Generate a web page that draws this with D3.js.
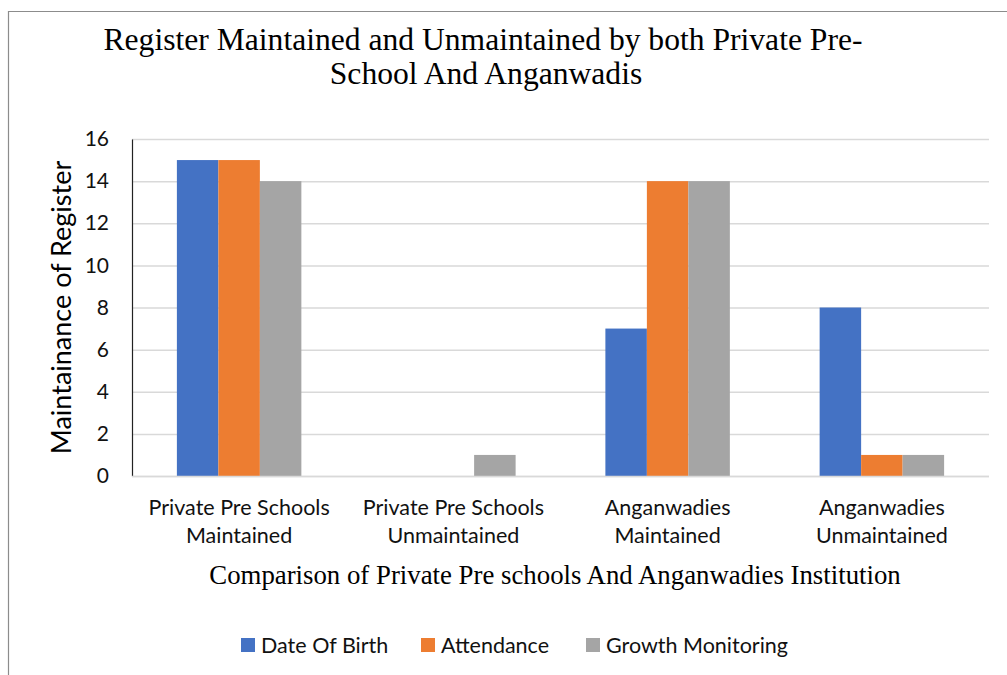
<!DOCTYPE html>
<html>
<head>
<meta charset="utf-8">
<script src="https://cdn.jsdelivr.net/npm/d3@7"></script>
<style>
  html, body { margin: 0; padding: 0; background: #fff; }
  svg { display: block; }
</style>
</head>
<body>
<svg id="chart" width="1007" height="675"></svg>
<script>
// Institutions compared on the x axis (two-line labels)
const categories = [
  ["Private Pre Schools", "Maintained"],
  ["Private Pre Schools", "Unmaintained"],
  ["Anganwadies", "Maintained"],
  ["Anganwadies", "Unmaintained"]
];
// Register types (series)
const seriesNames = ["Date Of Birth", "Attendance", "Growth Monitoring"];
const dateOfBirth = [15, 0, 7, 8];
const attendance = [15, 0, 14, 1];
const growthMonitoring = [14, 1, 14, 1];
const yTicks = [0, 2, 4, 6, 8, 10, 12, 14, 16];
const seriesColors = ["#4472C4", "#ED7D31", "#A5A5A5"];

const seriesValues = [dateOfBirth, attendance, growthMonitoring];
const rows = categories.map((c, i) => ({
  key: i,
  label: c,
  values: seriesNames.map((s, j) => ({ series: s, value: seriesValues[j][i] }))
}));

const svg = d3.select("#chart");
const sans = "Lato, 'Noto Sans', sans-serif";
const serif = "'Liberation Serif', 'Times New Roman', serif";

// Outer frame: top and left edges
svg.append("line").attr("x1", 8).attr("x2", 1007).attr("y1", 11.5).attr("y2", 11.5)
  .attr("stroke", "#8c8c8c").attr("stroke-width", 1.2);
svg.append("line").attr("x1", 8.5).attr("x2", 8.5).attr("y1", 11).attr("y2", 675)
  .attr("stroke", "#8c8c8c").attr("stroke-width", 1.2);

const plot = { left: 132, right: 989, top: 139, bottom: 476 };

const x0 = d3.scaleBand()
  .domain(rows.map(d => d.key))
  .range([plot.left, plot.right])
  .paddingInner(0.419)
  .paddingOuter(0.2095);
const x1 = d3.scaleBand()
  .domain(seriesNames)
  .range([0, x0.bandwidth()])
  .padding(0);
const y = d3.scaleLinear().domain([0, 16]).range([plot.bottom, plot.top]);
const color = d3.scaleOrdinal().domain(seriesNames).range(seriesColors);

// Horizontal gridlines
const grid = svg.append("g")
  .attr("transform", `translate(${plot.left},0)`)
  .call(d3.axisLeft(y).tickValues(yTicks).tickSize(-(plot.right - plot.left)).tickFormat(""));
grid.select(".domain").remove();
grid.selectAll(".tick line").attr("stroke", "#d9d9d9").attr("stroke-width", 1.5);

// Bars
const groups = svg.append("g").selectAll("g").data(rows).join("g")
  .attr("transform", d => `translate(${x0(d.key)},0)`);
groups.selectAll("rect").data(d => d.values).join("rect")
  .attr("x", d => x1(d.series))
  .attr("width", x1.bandwidth())
  .attr("y", d => y(d.value))
  .attr("height", d => y(0) - y(d.value))
  .attr("fill", d => color(d.series));

// Y axis with tick labels
const yAxis = svg.append("g")
  .attr("transform", `translate(${plot.left},0)`)
  .call(d3.axisLeft(y).tickValues(yTicks).tickSize(0).tickPadding(23));
yAxis.select(".domain").attr("stroke", "#222").attr("stroke-width", 1.2);
yAxis.selectAll("text")
  .attr("font-family", sans).attr("font-size", 21).attr("fill", "#111");

// X axis baseline and category labels
const xAxis = svg.append("g")
  .attr("transform", `translate(0,${plot.bottom})`)
  .call(d3.axisBottom(x0).tickSize(0).tickFormat(""));
xAxis.select(".domain").attr("stroke", "#d9d9d9").attr("stroke-width", 1.5)
  .attr("d", `M${plot.left},0.5H${plot.right}`);
xAxis.selectAll(".tick").each(function(k) {
  const t = d3.select(this).append("text")
    .attr("text-anchor", "middle")
    .attr("font-family", sans).attr("font-size", 21.5).attr("fill", "#111");
  rows[k].label.forEach((line, i) => {
    t.append("tspan").attr("x", 0).attr("y", 39 + i * 28).text(line);
  });
});

// Title
const title = svg.append("text")
  .attr("text-anchor", "middle")
  .attr("font-family", serif).attr("font-size", 31.6).attr("fill", "#000");
title.append("tspan").attr("x", 483).attr("y", 50)
  .text("Register Maintained and Unmaintained by both Private Pre-");
title.append("tspan").attr("x", 486).attr("y", 84)
  .text("School And Anganwadis");

// Axis titles
svg.append("text")
  .attr("transform", `translate(71,${(160 + 455) / 2}) rotate(-90)`)
  .attr("text-anchor", "middle")
  .attr("font-family", sans).attr("font-size", 27).attr("fill", "#000")
  .text("Maintainance of Register");

svg.append("text")
  .attr("x", 555).attr("y", 584)
  .attr("text-anchor", "middle")
  .attr("font-family", serif).attr("font-size", 26.8).attr("fill", "#000")
  .text("Comparison of Private Pre schools And Anganwadies Institution");

// Legend
const legendX = [241, 421, 586];
const legend = svg.append("g").selectAll("g").data(seriesNames).join("g")
  .attr("transform", (d, i) => `translate(${legendX[i]},638)`);
legend.append("rect").attr("width", 14).attr("height", 14).attr("fill", d => color(d));
legend.append("text")
  .attr("x", 20).attr("y", 14.5)
  .attr("font-family", sans).attr("font-size", 21.5).attr("fill", "#111")
  .text(d => d);
</script>
</body>
</html>
